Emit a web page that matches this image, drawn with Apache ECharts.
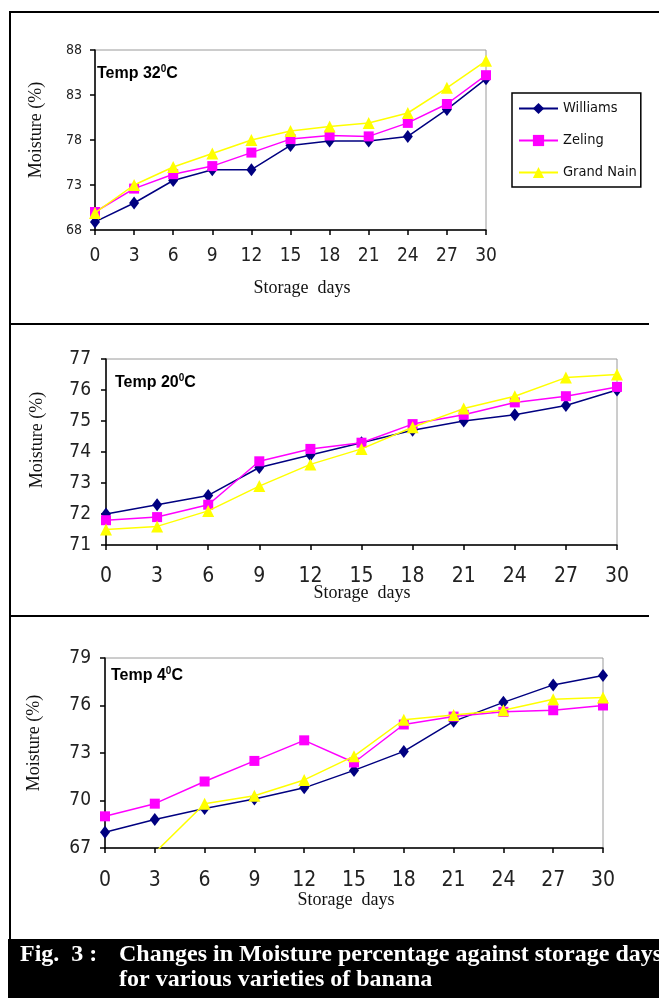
<!DOCTYPE html>
<html>
<head>
<meta charset="utf-8">
<script src="https://cdn.jsdelivr.net/npm/echarts@6/dist/echarts.min.js"></script>
<style>
  html, body { margin: 0; padding: 0; background: #fff; }
  #chart { width: 659px; height: 998px; }
</style>
</head>
<body>
<div id="chart"></div>
<script>
// Storage days on the x axis
const days = ['0', '3', '6', '9', '12', '15', '18', '21', '24', '27', '30'];
const varieties = ['Williams', 'Zeling', 'Grand Nain'];

// Moisture (%) at 32 °C
const williams32   = [68.9, 71.0, 73.5, 74.7, 74.7, 77.4, 77.9, 77.9, 78.4, 81.4, 84.8];
const zeling32     = [70.0, 72.6, 74.2, 75.1, 76.6, 78.1, 78.5, 78.4, 79.9, 82.0, 85.2];
const grandNain32  = [69.9, 73.0, 75.0, 76.5, 78.0, 79.0, 79.5, 79.9, 81.0, 83.8, 86.8];

// Moisture (%) at 20 °C
const williams20   = [72.0, 72.3, 72.6, 73.5, 73.9, 74.3, 74.7, 75.0, 75.2, 75.5, 76.0];
const zeling20     = [71.8, 71.9, 72.3, 73.7, 74.1, 74.3, 74.9, 75.2, 75.6, 75.8, 76.1];
const grandNain20  = [71.5, 71.6, 72.1, 72.9, 73.6, 74.1, 74.8, 75.4, 75.8, 76.4, 76.5];

// Moisture (%) at 4 °C
const williams4    = [68.0, 68.8, 69.5, 70.1, 70.8, 71.9, 73.1, 75.0, 76.2, 77.3, 77.9];
const zeling4      = [69.0, 69.8, 71.2, 72.5, 73.8, 72.4, 74.8, 75.3, 75.6, 75.7, 76.0];
const grandNain4   = [null, 66.7, 69.8, 70.3, 71.3, 72.8, 75.1, 75.4, 75.7, 76.4, 76.5];

// Y axis tick labels per panel
const yTicks32 = [68, 73, 78, 83, 88];
const yTicks20 = [71, 72, 73, 74, 75, 76, 77];
const yTicks4  = [67, 70, 73, 76, 79];

const colors = { 'Williams': '#000080', 'Zeling': '#ff00ff', 'Grand Nain': '#ffff00' };
const symbols = { 'Williams': 'diamond', 'Zeling': 'rect', 'Grand Nain': 'triangle' };
const symbolSizes = { 'Williams': [10, 13], 'Zeling': 10, 'Grand Nain': 12 };

const NARROW = "'Liberation Sans Narrow', 'Arial Narrow', 'DejaVu Sans Condensed', sans-serif";
const SANS = "'Liberation Sans', Arial, sans-serif";
const SERIF = "'Liberation Serif', 'Times New Roman', serif";

const panels = [
  { grid: { left: 95, top: 50, width: 391, height: 180 },
    min: 68, max: 88, ticks: yTicks32, series: [williams32, zeling32, grandNain32],
    xFont: 19, yFont: 14, xMargin: 17, yMargin: 13 },
  { grid: { left: 106, top: 359, width: 511, height: 186 },
    min: 71, max: 77, ticks: yTicks20, series: [williams20, zeling20, grandNain20],
    xFont: 21, yFont: 19, xMargin: 21, yMargin: 15 },
  { grid: { left: 105, top: 658, width: 498, height: 190 },
    min: 67, max: 79, ticks: yTicks4, series: [williams4, zeling4, grandNain4],
    xFont: 21, yFont: 19, xMargin: 22, yMargin: 14 }
];

const grids = [], xAxes = [], yAxes = [], series = [];
panels.forEach((p, i) => {
  grids.push(Object.assign({ show: true, borderColor: '#9a9a9a', borderWidth: 1, backgroundColor: 'transparent' }, p.grid));
  xAxes.push({
    type: 'category', gridIndex: i, data: days, boundaryGap: false,
    axisLine: { lineStyle: { color: '#000', width: 1.5 } },
    axisTick: { show: true, length: 5, alignWithLabel: true, lineStyle: { color: '#000', width: 1.5 } },
    axisLabel: { color: '#222', fontFamily: NARROW, fontSize: p.xFont, margin: p.xMargin },
    splitLine: { show: false }
  });
  yAxes.push({
    type: 'value', gridIndex: i, min: p.min, max: p.max,
    axisLine: { show: true, lineStyle: { color: '#000', width: 1.5 } },
    axisTick: { show: true, length: 5, customValues: p.ticks, lineStyle: { color: '#000', width: 1.5 } },
    axisLabel: { color: '#222', fontFamily: NARROW, fontSize: p.yFont, margin: p.yMargin, customValues: p.ticks },
    splitLine: { show: false }
  });
  varieties.forEach((name, k) => {
    series.push({
      type: 'line', name: name, xAxisIndex: i, yAxisIndex: i,
      data: p.series[k],
      symbol: symbols[name], symbolSize: symbolSizes[name],
      showAllSymbol: true, clip: true, connectNulls: false,
      lineStyle: { color: colors[name], width: 1.5 },
      itemStyle: { color: colors[name], borderWidth: 0 },
      animation: false, z: 2 + k
    });
  });
});

function supLabel(x, y, main, tail) {
  return {
    type: 'text', x: x, y: y,
    style: {
      text: '{a|' + main + '}{s|0}{a|' + tail + '}',
      verticalAlign: 'middle',
      rich: {
        a: { font: "bold 16px " + SANS, fill: '#000', verticalAlign: 'bottom', lineHeight: 18 },
        s: { font: "bold 10px " + SANS, fill: '#000', verticalAlign: 'top', lineHeight: 18 }
      }
    }
  };
}

function yTitle(x, y) {
  return { type: 'text', x: x, y: y, rotation: Math.PI / 2,
    style: { text: 'Moisture (%)', font: "18px " + SERIF, fill: '#111', align: 'center', verticalAlign: 'middle' } };
}
function xTitle(x, y) {
  return { type: 'text', x: x, y: y,
    style: { text: 'Storage  days', font: "18px " + SERIF, fill: '#111', align: 'center', verticalAlign: 'middle' } };
}

const graphic = [
  // page frame and panel dividers
  { type: 'line', shape: { x1: 10, y1: 12, x2: 10, y2: 940 }, style: { stroke: '#000', lineWidth: 2 } },
  { type: 'line', shape: { x1: 9, y1: 12, x2: 659, y2: 12 }, style: { stroke: '#000', lineWidth: 2 } },
  { type: 'line', shape: { x1: 9, y1: 324, x2: 649, y2: 324 }, style: { stroke: '#000', lineWidth: 2 } },
  { type: 'line', shape: { x1: 9, y1: 616, x2: 649, y2: 616 }, style: { stroke: '#000', lineWidth: 2 } },
  // caption bar
  { type: 'rect', shape: { x: 8, y: 939, width: 651, height: 59 }, style: { fill: '#000' } },
  { type: 'text', x: 20, y: 955, style: { text: 'Fig.  3 :', font: "bold 24px " + SERIF, fill: '#fff', verticalAlign: 'middle' } },
  { type: 'text', x: 119, y: 955, style: { text: 'Changes in Moisture percentage against storage days', font: "bold 24px " + SERIF, fill: '#fff', verticalAlign: 'middle' } },
  { type: 'text', x: 119, y: 980, style: { text: 'for various varieties of banana', font: "bold 24px " + SERIF, fill: '#fff', verticalAlign: 'middle' } },
  // panel annotations
  supLabel(97, 73, 'Temp 32', 'C'),
  supLabel(115, 382, 'Temp 20', 'C'),
  supLabel(111, 675, 'Temp 4', 'C'),
  yTitle(36, 130), yTitle(37, 440), yTitle(34, 743),
  xTitle(302, 288), xTitle(362, 593), xTitle(346, 900)
];

const chart = echarts.init(document.getElementById('chart'), null, { renderer: 'canvas' });
chart.setOption({
  animation: false,
  backgroundColor: '#fff',
  grid: grids,
  xAxis: xAxes,
  yAxis: yAxes,
  legend: {
    data: varieties, orient: 'vertical', left: 512, top: 93,
    itemWidth: 39, itemHeight: 14, itemGap: 17,
    padding: [8, 4, 7, 6], borderColor: '#000', borderWidth: 1.5,
    textStyle: { fontFamily: NARROW, fontSize: 14.5, color: '#111' }
  },
  series: series,
  graphic: graphic
});
</script>
</body>
</html>
